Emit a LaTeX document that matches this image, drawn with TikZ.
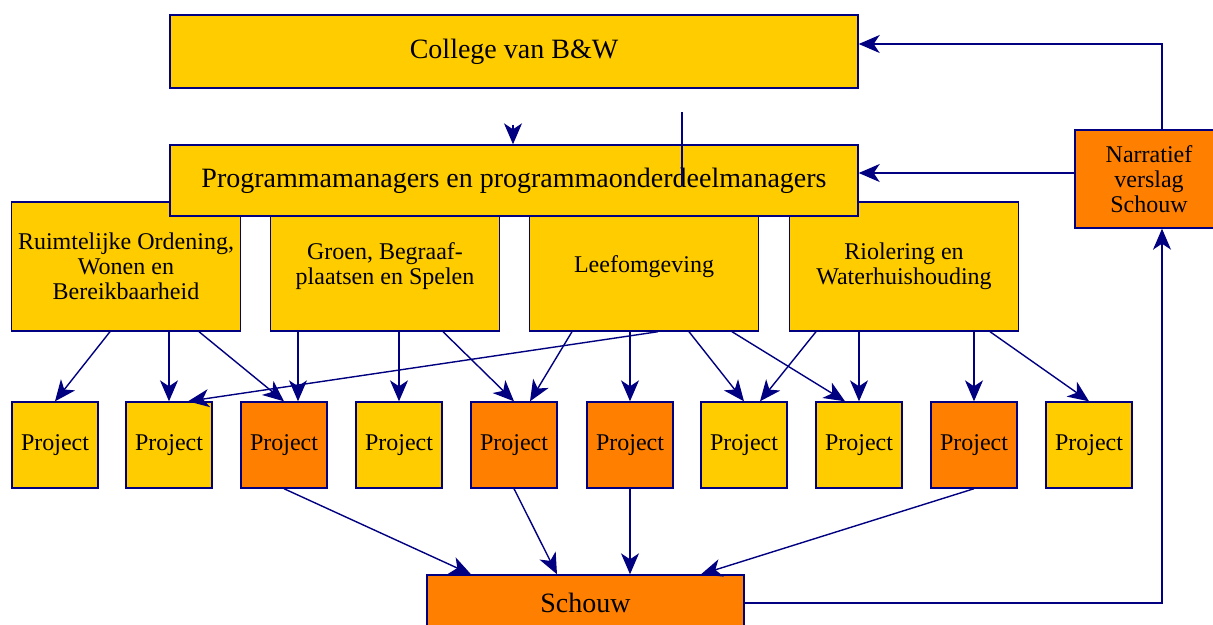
\documentclass[tikz,border=0pt]{standalone}
\usepackage{fontspec}
\setmainfont{Liberation Serif}
\usetikzlibrary{arrows.meta}
\definecolor{geel}{HTML}{FFCC00}
\definecolor{oranje}{HTML}{FF8000}
\definecolor{marine}{HTML}{000080}

\begin{document}
\begin{tikzpicture}[x=1pt,y=-1pt,
        box/.style={draw=marine,line width=1.4pt,fill=geel,inner sep=2pt,align=center,font=\fontsize{24}{25}\selectfont},
        groot/.style={box,font=\fontsize{28}{30}\selectfont},
        deel/.style={box,minimum width=229pt,minimum height=129pt},
        proj/.style={box,minimum width=86pt,minimum height=86pt},
        arr/.style={draw=marine,line width=1.4pt,-{Stealth[length=21pt,width=18pt,inset=6pt]}}]
        \clip (0,0) rectangle (1213,624);
        % programmaonderdelen
        \node[deel] (ruimte) at (126,266.5) {Ruimtelijke Ordening,\\Wonen en\\Bereikbaarheid};
        \node[deel] (groen) at (385,266.5) {Groen, Begraaf-\\plaatsen en Spelen};
        \node[deel] (leef) at (644,266.5) {Leefomgeving};
        \node[deel] (riool) at (904,266.5) {Riolering en\\Waterhuishouding};
        % bestuur
        \node[groot,minimum width=688pt,minimum height=73pt] (college) at (514,51.5) {College van B\&W};
        \node[groot,minimum width=688pt,minimum height=71pt] (prog) at (514,180.5) {Programmamanagers en programmaonderdeelmanagers};
        \node[box,fill=oranje,minimum width=148pt,minimum height=98pt] (narr) at (1149,179) {Narratief\\verslag\\Schouw};
        % projecten
        \node[proj] (p1) at (55,445) {Project};
        \node[proj] (p2) at (169,445) {Project};
        \node[proj,fill=oranje] (p3) at (284,445) {Project};
        \node[proj] (p4) at (399,445) {Project};
        \node[proj,fill=oranje] (p5) at (514,445) {Project};
        \node[proj,fill=oranje] (p6) at (630,445) {Project};
        \node[proj] (p7) at (744,445) {Project};
        \node[proj] (p8) at (859,445) {Project};
        \node[proj,fill=oranje] (p9) at (974,445) {Project};
        \node[proj] (p10) at (1089,445) {Project};
        \node[groot,fill=oranje,minimum width=317pt,minimum height=56pt] (schouw) at (585.5,603) {Schouw};
        % losse stukjes
        \coordinate (stub) at (513,124.5);
        \coordinate (lijn) at (682,112);
        \draw[arr] (stub) -- (stub |- prog.north);
        \draw[draw=marine,line width=1.4pt] (lijn) -- ++(0,74);
        % onderdelen naar projecten
        \draw[arr] ([xshift=-16pt]ruimte.south) -- (p1.north);
        \draw[arr] (ruimte.south -| p2.north) -- (p2.north);
        \draw[arr] ([xshift=73pt]ruimte.south) -- (p3.north);
        \draw[arr] ([xshift=-87pt]groen.south) -- ([xshift=14pt]p3.north);
        \draw[arr] (groen.south -| p4.north) -- (p4.north);
        \draw[arr] ([xshift=58pt]groen.south) -- (p5.north);
        \draw[arr] ([xshift=14pt]leef.south) -- ([xshift=19pt]p2.north);
        \draw[arr] ([xshift=-72pt]leef.south) -- ([xshift=16pt]p5.north);
        \draw[arr] (leef.south -| p6.north) -- (p6.north);
        \draw[arr] ([xshift=45pt]leef.south) -- (p7.north);
        \draw[arr] ([xshift=88pt]leef.south) -- ([xshift=-14pt]p8.north);
        \draw[arr] ([xshift=-88pt]riool.south) -- ([xshift=16pt]p7.north);
        \draw[arr] (riool.south -| p8.north) -- (p8.north);
        \draw[arr] (riool.south -| p9.north) -- (p9.north);
        \draw[arr] ([xshift=86pt]riool.south) -- (p10.north);
        % projecten naar schouw
        \draw[arr] (p3.south) -- ([xshift=-114.5pt]schouw.north);
        \draw[arr] (p5.south) -- ([xshift=-28.5pt]schouw.north);
        \draw[arr] (p6.south) -- (p6.south |- schouw.north);
        \draw[arr] (p9.south) -- ([xshift=115.5pt]schouw.north);
        % terugkoppeling
        \draw[arr] (schouw.east) -| ([xshift=13pt]narr.south);
        \draw[arr] ([xshift=13pt]narr.north) |- ([yshift=7.5pt]college.east);
        \draw[arr] ([yshift=6pt]narr.west) -- ([yshift=6pt]narr.west -| prog.east);
\end{tikzpicture}
\end{document}
